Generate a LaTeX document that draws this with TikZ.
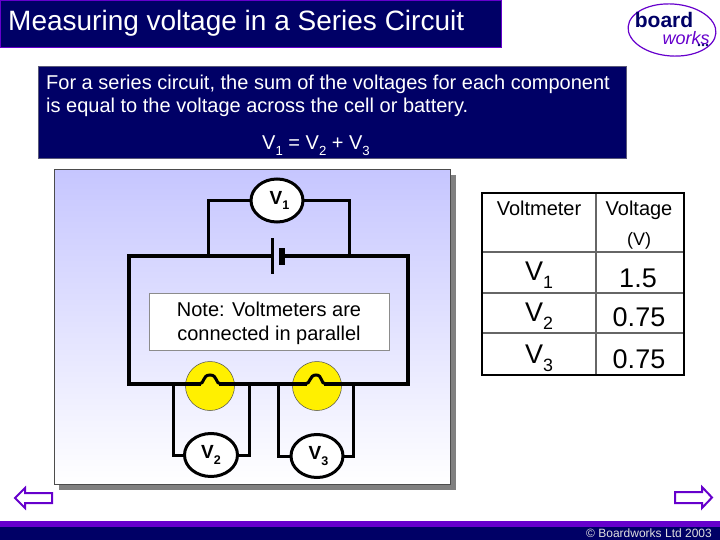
\documentclass[tikz,border=0pt]{standalone}
\usepackage{fontspec}
\usepackage{graphicx}
\setmainfont{Liberation Sans}
\usetikzlibrary{shapes.geometric, arrows, shadows}
\definecolor{navy}{RGB}{0,0,102}
\definecolor{barpurple}{RGB}{102,0,204}
\definecolor{panelblue}{RGB}{198,198,255}
\definecolor{lampyellow}{RGB}{255,240,0}
\newcommand{\vsub}[1]{V\raisebox{-0.3em}{\scalebox{0.66}{#1}}}
\tikzstyle{banner} = [rectangle, anchor=north west, inner sep=0, fill=navy, draw=barpurple, line width=1pt]
\tikzstyle{infobox} = [rectangle, anchor=north west, inner sep=0, fill=navy, draw=gray!70!navy, line width=0.8pt]
\tikzstyle{panel} = [rectangle, anchor=north west, inner sep=0, top color=panelblue, bottom color=white, draw=gray!60!black, line width=0.8pt]
\tikzstyle{notebox} = [rectangle, anchor=north west, inner sep=0, fill=white, draw=gray!90, line width=1pt]
\tikzstyle{meter} = [ellipse, inner sep=0, draw=black, fill=white, line width=3pt, font=\fontsize{19}{20}\selectfont\bfseries]
\tikzstyle{lamp} = [circle, inner sep=0, minimum size=49pt, draw=black!70, fill=lampyellow, line width=0.5pt]
\tikzstyle{wire} = [line width=3pt, line cap=rect, line join=miter]
\tikzstyle{mainwire} = [line width=3.6pt, line cap=rect, line join=miter]
\tikzstyle{tabline} = [line width=1.2pt, draw=gray!80!black]
\tikzstyle{navarrow} = [draw=barpurple, fill=white, line width=2pt, line join=miter]
\tikzstyle{cell} = [inner sep=0, anchor=base, font=\fontsize{20}{22}\selectfont]
\tikzstyle{bigcell} = [inner sep=0, font=\fontsize{27}{30}\selectfont]

\begin{document}
\begin{tikzpicture}[x=1pt, y=-1pt]
	\useasboundingbox (0,0) rectangle (720,540);

	% header and footer
	\node (title) [banner, minimum width=501pt, minimum height=47pt] at (0,0) {};
	\node (titletext) [anchor=west, inner sep=0, text=white, font=\fontsize{28}{30}\selectfont] at (8,23) {Measuring voltage in a Series Circuit};
	\node (bar) [anchor=north west, inner sep=0, fill=barpurple, minimum width=720pt, minimum height=5.5pt] at (0,521) {};
	\node (foot) [anchor=north west, inner sep=0, fill=navy, minimum width=720pt, minimum height=13pt] at (0,527) {};
	\node (copy) [anchor=east, inner sep=0, text=gray!25, font=\fontsize{12}{13}\selectfont] at (712,533.5) {© Boardworks Ltd 2003};

	% logo
	\node (logo) [ellipse, rotate=-4, draw=barpurple, line width=1.2pt, minimum width=88pt, minimum height=52pt, inner sep=0] at (672,30) {};
	\node (board) [inner sep=0, text=navy, font=\fontsize{21}{22}\selectfont\bfseries] at (664,19.5) {board};
	\node (works) [inner sep=0, text=barpurple, font=\fontsize{18}{19}\selectfont\itshape] at (686,38) {works};
	\foreach \x in {699,703,707}
		\fill [navy] (\x,45) circle (1.3pt);

	% text box
	\node (info) [infobox, minimum width=588pt, minimum height=92pt] at (38,66) {};
	\node (infotext) [anchor=north west, inner sep=0, text=white, align=left, font=\fontsize{20}{23.5}\selectfont] at (46,74.5) {For a series circuit, the sum of the voltages for each component\\is equal to the voltage across the cell or battery.};
	\node (sumeq) [inner sep=0, text=white, font=\fontsize{20}{22}\selectfont] at (316,146) {\vsub{1} = \vsub{2} + \vsub{3}};

	% circuit
	\fill [gray] (59,175) rectangle (456,490);
	\node (board1) [panel, minimum width=396pt, minimum height=315pt] at (54,169) {};
	\node (note) [notebox, minimum width=240pt, minimum height=57pt] at (149,293) {};
	\node (notetext) [inner sep=0, align=center, font=\fontsize{20}{24.5}\selectfont] at (269,323.5) {Note: Voltmeters are\\connected in parallel};
	\node (lampa) [lamp] at (210,386) {};
	\node (lampb) [lamp] at (317,386) {};
	\node (vone) [meter, minimum width=52pt, minimum height=43pt] at (277,200.5) {\hspace{5pt}\vsub{1}};
	\node (vtwo) [meter, minimum width=53pt, minimum height=43pt] at (211,455) {\vsub{2}};
	\node (vthree) [meter, minimum width=52pt, minimum height=43pt] at (317,456) {\hspace{3pt}\vsub{3}};

	\coordinate (batl) at (272,256);
	\coordinate (batr) at (282,256);
	\coordinate (nw) at (129,256);
	\coordinate (ne) at (408,256);
	\coordinate (sw) at (129,384);
	\coordinate (se) at (408,384);
	\coordinate (tapl) at (208,256);
	\coordinate (tapr) at (349,256);
	\coordinate (lefta) at (199,384);
	\coordinate (righta) at (221,384);
	\coordinate (leftb) at (305,384);
	\coordinate (rightb) at (326,384);
	\coordinate (ta) at (173,384);
	\coordinate (tb) at (249,384);
	\coordinate (tc) at (278,384);
	\coordinate (td) at (353,384);

	\draw [mainwire] (batl) -- (nw) -- (sw) -- (lefta);
	\draw [mainwire] (batr) -- (ne) -- (se) -- (rightb);
	\draw [mainwire] (righta) -- (leftb);
	\draw [wire] (lefta) .. controls (205,384) and (202,375) .. (210,375) .. controls (218,375) and (215,384) .. (righta);
	\draw [wire] (leftb) .. controls (311,384) and (309,375) .. (316,375) .. controls (323,375) and (320,384) .. (rightb);

	\draw [wire] (tapl) |- (vone);
	\draw [wire] (tapr) |- (vone);
	\draw [wire] (ta) |- (vtwo);
	\draw [wire] (tb) |- (vtwo);
	\draw [wire] (tc) |- (vthree);
	\draw [wire] (td) |- (vthree);

	% battery
	\draw [line width=3pt] (272,238) -- (272,274);
	\draw [line width=6pt] (282,248) -- (282,265);

	% table
	\draw [tabline] (596,192) -- (596,374);
	\foreach \y in {252,293,333}
		\draw [tabline] (481,\y) -- (683,\y);
	\node (tab) [anchor=north west, inner sep=0, draw=black, line width=2.4pt, minimum width=202pt, minimum height=182pt] at (481,192) {};
	\node (headv) [cell] at (539,215.5) {Voltmeter};
	\node (heada) [cell] at (639,215.5) {Voltage};
	\node (headb) [cell, font=\fontsize{18}{20}\selectfont] at (639,245) {(V)};
	\node (rowa) [bigcell] at (539,275) {\vsub{1}};
	\node (vala) [bigcell] at (638,278) {1.5};
	\node (rowb) [bigcell] at (539,316) {\vsub{2}};
	\node (valb) [bigcell] at (639,317) {0.75};
	\node (rowc) [bigcell] at (539,358) {\vsub{3}};
	\node (valc) [bigcell] at (639,359) {0.75};

	% navigation arrows
	\draw [navarrow] (15,498) -- (25,488) -- (25,493) -- (52,493) -- (52,503) -- (25,503) -- (25,508) -- cycle;
	\draw [navarrow] (712,497.5) -- (702,487) -- (702,492) -- (675,492) -- (675,503) -- (702,503) -- (702,508) -- cycle;
\end{tikzpicture}
\end{document}
